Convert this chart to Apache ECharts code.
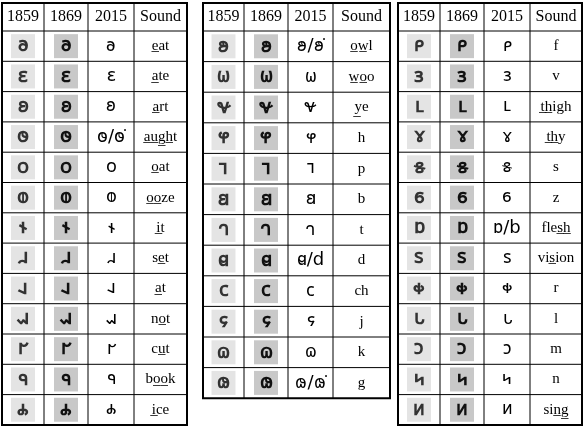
<!DOCTYPE html><html><head><meta charset="utf-8">
<script src="https://cdn.jsdelivr.net/npm/echarts@6/dist/echarts.min.js"></script>
<style>html,body{margin:0;background:#fff}#c{width:584px;height:428px}</style></head><body><div id="c"></div>
<script>
const headers=['1859','1869','2015','Sound'];
const glyphs1=['𐐨','𐐩','𐐪','𐐫','𐐬','𐐭','𐐮','𐐯','𐐰','𐐱','𐐲','𐐳','𐐴'];
const alt1=['','','','𐐫̇','','','','','','','','',''];
const sounds1=['e̲at','a̲te','a̲rt','a̲u̲g̲h̲t','o̲at','o̲o̲ze','i̲t','se̲t','a̲t','no̲t','cu̲t','bo̲o̲k','i̲ce'];
const glyphs2=['𐐵','𐐶','𐐷','𐐸','𐐹','𐐺','𐐻','𐐼','𐐽','𐐾','𐐿','𐑀'];
const alt2=['𐐵̇','','','','','','','d','','','','𐑀̇'];
const sounds2=['o̲w̲l','w̲o̲o','y̲e','h','p','b','t','d','ch','j','k','g'];
const glyphs3=['𐑁','𐑂','𐑃','𐑄','𐑅','𐑆','𐑇','𐑈','𐑉','𐑊','𐑋','𐑌','𐑍'];
const alt3=['','','','','','','b','','','','','',''];
const sounds3=['f','v','t̲h̲igh','t̲h̲y','s','z','fles̲h̲','vis̲ion','r','l','m','n','sin̲g̲'];
const tables=[
 {x:[2,44,88,134,187],y0:3,rh:30.3,g:glyphs1,a:alt1,s:sounds1},
 {x:[203,244,288,333,390],y0:3,rh:30.6,g:glyphs2,a:alt2,s:sounds2},
 {x:[398,440,484,530,582],y0:3,rh:30.3,g:glyphs3,a:alt3,s:sounds3}];
const els=[];const F='"DejaVu Sans","Noto Sans",sans-serif';const SF='"Liberation Serif",serif';
tables.forEach(t=>{
 const n=t.g.length,hh=28,bottom=t.y0+hh+n*t.rh;
 const X=t.x;
 for(let c=0;c<4;c++){const cx=(X[c]+X[c+1])/2;
  els.push({type:'text',x:cx,y:t.y0+hh/2,style:{text:headers[c],font:'16px '+SF,fill:'#000',align:'center',verticalAlign:'middle'}});}
 for(let r=0;r<n;r++){const cy=t.y0+hh+(r+0.5)*t.rh;
  [0,1].forEach(c=>{const cx=(X[c]+X[c+1])/2;
   els.push({type:'rect',shape:{x:cx-12,y:cy-12,width:24,height:24},style:{fill:c?'#c8c8c8':'#e4e4e4'}});
   els.push({type:'text',x:cx,y:cy,style:{text:t.g[r],font:'bold 20px '+F,fill:c?'#111':'#333',align:'center',verticalAlign:'middle'}});});
  const third=t.a[r]?t.g[r]+'/'+t.a[r]:t.g[r];
  els.push({type:'text',x:(X[2]+X[3])/2,y:cy,style:{text:third,font:'18px '+F,fill:'#000',align:'center',verticalAlign:'middle'}});
  els.push({type:'text',x:(X[3]+X[4])/2,y:cy,style:{text:t.s[r],font:'15px '+SF,fill:'#000',align:'center',verticalAlign:'middle'}});
  els.push({type:'line',shape:{x1:X[0],y1:t.y0+hh+r*t.rh,x2:X[4],y2:t.y0+hh+r*t.rh},style:{stroke:'#000',lineWidth:1}});
 }
 for(let c=1;c<4;c++)els.push({type:'line',shape:{x1:X[c],y1:t.y0,x2:X[c],y2:bottom},style:{stroke:'#000',lineWidth:1}});
 els.push({type:'rect',shape:{x:X[0],y:t.y0,width:X[4]-X[0],height:bottom-t.y0},style:{fill:'none',stroke:'#000',lineWidth:2}});
});
const ch=echarts.init(document.getElementById('c'));
ch.setOption({animation:false,graphic:{elements:els}});
</script></body></html>
